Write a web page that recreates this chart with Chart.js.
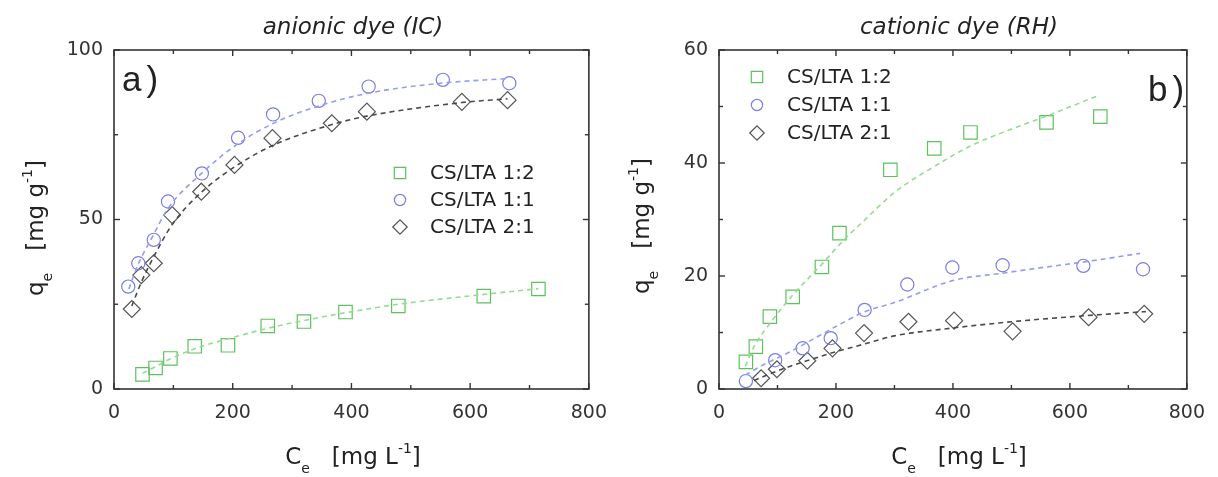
<!DOCTYPE html>
<html>
<head>
<meta charset="utf-8">
<script src="https://cdn.jsdelivr.net/npm/chart.js@4.4.0/dist/chart.umd.min.js"></script>
<style>
body { margin: 0; background: #fff; font-family: "DejaVu Sans", "Liberation Sans", Arial, sans-serif; color: #222; }
#wrap { position: relative; width: 1218px; height: 477px; overflow: hidden; }
canvas { position: absolute; top: 0; }
.t { position: absolute; white-space: nowrap; line-height: 1; }
.title { font-size: 23px; font-style: italic; transform: translateX(-50%); top: 15px; }
.xlab { font-size: 23px; transform: translateX(-50%); top: 441px; }
.ylab { font-size: 23px; transform: translate(-50%, -50%) rotate(-90deg); }
.panel { font-family: "Liberation Sans", Arial, sans-serif; font-size: 35px; letter-spacing: 5px; }
sub { font-size: 14px; vertical-align: -9px; }
sup { font-size: 14px; vertical-align: 11px; }
</style>
</head>
<body>
<div id="wrap">
  <canvas id="ic-chart" width="620" height="477" style="left:0"></canvas>
  <canvas id="rh-chart" width="613" height="477" style="left:605px"></canvas>

  <div class="t title" style="left:353px">anionic dye (IC)</div>
  <div class="t title" style="left:959px">cationic dye (RH)</div>
  <div class="t panel" style="left:122px;top:61px">a)</div>
  <div class="t panel" style="left:1148px;top:71px">b)</div>
  <div class="t xlab" style="left:353px">C<sub>e</sub>&nbsp;&nbsp;&nbsp;[mg L<sup>-1</sup>]</div>
  <div class="t xlab" style="left:959px">C<sub>e</sub>&nbsp;&nbsp;&nbsp;[mg L<sup>-1</sup>]</div>
  <div class="t ylab" style="left:37px;top:228px">q<sub>e</sub>&nbsp;&nbsp;&nbsp;[mg g<sup>-1</sup>]</div>
  <div class="t ylab" style="left:643px;top:226px">q<sub>e</sub>&nbsp;&nbsp;&nbsp;[mg g<sup>-1</sup>]</div>
</div>

<script>
// Isotermas - corante aniônico (IC)
const icCe12 = [48, 70, 95, 136, 192, 259, 320, 390, 479, 623, 715];
const icQe12 = [4.3, 6.2, 9.0, 12.6, 12.9, 18.6, 19.9, 22.7, 24.5, 27.4, 29.5];
const icCe11 = [24, 41, 67, 91, 148, 209, 268, 345, 429, 554, 666];
const icQe11 = [30.2, 37.1, 44.0, 55.3, 63.6, 74.1, 81.0, 85.0, 89.2, 91.2, 90.2];
const icCe21 = [30, 46, 67, 98, 147, 203, 267, 367, 426, 586, 663];
const icQe21 = [23.6, 33.6, 37.1, 51.3, 58.2, 66.1, 74.0, 78.4, 81.8, 84.7, 85.2];

// curvas de ajuste (IC)
const icFitCe12 = [48, 70, 95, 136, 192, 259, 320, 390, 479, 623, 715];
const icFitQe12 = [4.6, 6.6, 8.9, 11.9, 14.8, 17.9, 20.2, 22.5, 25.0, 27.9, 29.6];
const icFitCe11 = [25, 40, 65, 90, 150, 210, 270, 345, 430, 550, 665];
const icFitQe11 = [29.5, 36.5, 45, 53, 64, 72.5, 78.5, 83.5, 87.3, 90.2, 91.6];
const icFitCe21 = [30, 46, 67, 98, 147, 203, 267, 367, 426, 586, 663];
const icFitQe21 = [24.5, 31.5, 39, 48.5, 58, 65.5, 71.8, 78, 80.5, 84.5, 85.6];

// Isotermas - corante catiônico (RH)
const rhCe12 = [46, 63, 87, 126, 176, 206, 293, 368, 430, 560, 652];
const rhQe12 = [4.8, 7.5, 12.8, 16.3, 21.6, 27.6, 38.8, 42.6, 45.4, 47.2, 48.2];
const rhCe11 = [46, 96, 143, 191, 249, 322, 399, 485, 623, 725];
const rhQe11 = [1.4, 5.1, 7.2, 9.0, 14.0, 18.5, 21.5, 21.9, 21.8, 21.2];
const rhCe21 = [72, 99, 151, 194, 248, 324, 402, 502, 632, 727];
const rhQe21 = [1.9, 3.5, 5.0, 7.2, 9.9, 11.9, 12.1, 10.2, 12.7, 13.3];

// curvas de ajuste (RH)
const rhFitCe12 = [45, 60, 90, 125, 175, 210, 250, 300, 370, 430, 500, 560, 650];
const rhFitQe12 = [4.0, 7.5, 12.0, 16.5, 22.0, 26.0, 30.0, 34.8, 39.5, 43.0, 46.0, 48.3, 52.0];
const rhFitCe11 = [45, 80, 120, 190, 250, 300, 400, 485, 560, 625, 720];
const rhFitQe11 = [2.5, 4.5, 6.5, 10.5, 13.7, 15.3, 19.2, 20.5, 21.6, 22.5, 24.0];
const rhFitCe21 = [60, 100, 150, 200, 250, 300, 400, 500, 630, 730];
const rhFitQe21 = [1.5, 3.2, 5.0, 6.6, 8.0, 9.4, 10.8, 11.9, 13.0, 13.7];

const seriesLabels = ['CS/LTA 1:2', 'CS/LTA 1:1', 'CS/LTA 2:1'];
const xTicks = [0, 200, 400, 600, 800];
const icYTicks = [0, 50, 100];
const rhYTicks = [0, 20, 40, 60];

const GREEN = '#5cc25c', GREEN_FIT = '#93dc93';
const BLUE = '#7b7de8', BLUE_FIT = '#979cf0';
const BLACK = '#555555', BLACK_FIT = '#4a4a4a';
const FONT = '"DejaVu Sans", "Liberation Sans", Arial, sans-serif';

const markerStyles = [
    { pointStyle: 'rect', pointRadius: 9.5, borderColor: GREEN },
    { pointStyle: 'circle', pointRadius: 6.6, borderColor: BLUE },
    { pointStyle: 'rectRot', pointRadius: 8.5, borderColor: BLACK }
];
const fitColors = [GREEN_FIT, BLUE_FIT, BLACK_FIT];

function pts(xs, ys) {
    return xs.map((x, i) => ({ x: x, y: ys[i] }));
}

function buildDatasets(measured, fits) {
    const sets = [];
    fits.forEach((f, i) => {
        sets.push({
            data: pts(f[0], f[1]),
            showLine: true,
            isFit: true,
            borderColor: fitColors[i],
            borderWidth: 1.6,
            borderDash: [5, 4],
            pointRadius: 0,
            cubicInterpolationMode: 'monotone'
        });
    });
    measured.forEach((m, i) => {
        sets.push(Object.assign({
            label: seriesLabels[i],
            data: pts(m[0], m[1]),
            showLine: false,
            backgroundColor: 'rgba(0,0,0,0)',
            borderWidth: 1.2,
            pointBorderWidth: 1.2
        }, markerStyles[i]));
    });
    return sets;
}

// moldura, marcas internas e legenda dentro do gráfico
const frameTicks = {
    id: 'frameTicks',
    afterDatasetsDraw(chart, args, opts) {
        const { ctx, chartArea: a, scales } = chart;
        const xs = scales.x, ys = scales.y;
        ctx.save();
        ctx.strokeStyle = '#333';
        ctx.lineWidth = 1.6;
        ctx.strokeRect(a.left, a.top, a.right - a.left, a.bottom - a.top);
        ctx.lineWidth = 1.4;
        const seg = (x1, y1, x2, y2) => {
            ctx.beginPath(); ctx.moveTo(x1, y1); ctx.lineTo(x2, y2); ctx.stroke();
        };
        for (let v = xs.min; v <= xs.max + 1e-6; v += opts.minorX) {
            const len = (Math.round(v) % opts.majorX === 0) ? 6 : 4;
            const px = xs.getPixelForValue(v);
            seg(px, a.bottom, px, a.bottom - len);
            seg(px, a.top, px, a.top + len);
        }
        for (let v = ys.min; v <= ys.max + 1e-6; v += opts.minorY) {
            const len = (Math.round(v) % opts.majorY === 0) ? 6 : 4;
            const py = ys.getPixelForValue(v);
            seg(a.left, py, a.left + len, py);
            seg(a.right, py, a.right - len, py);
        }

        // legenda
        ctx.font = '20px ' + FONT;
        ctx.textBaseline = 'middle';
        let row = 0;
        chart.data.datasets.forEach(ds => {
            if (ds.isFit) return;
            const y = opts.legendY + row * opts.legendGap;
            ctx.strokeStyle = ds.borderColor;
            ctx.fillStyle = 'rgba(0,0,0,0)';
            ctx.lineWidth = 1.2;
            Chart.helpers.drawPoint(ctx, {
                pointStyle: ds.pointStyle, radius: ds.pointRadius * 0.85, rotation: 0, borderWidth: 1.2
            }, opts.legendX, y);
            ctx.fillStyle = '#222';
            ctx.fillText(ds.label, opts.legendX + 30, y + 1);
            row++;
        });
        ctx.restore();
    }
};

function axisOptions(yMax, yStep, yTicks) {
    const tickFont = { family: FONT, size: 19 };
    return {
        x: {
            type: 'linear', min: 0, max: 800,
            afterFit: s => { s.height = 88; },
            afterBuildTicks: s => { s.ticks = xTicks.map(v => ({ value: v })); },
            grid: { display: false, drawTicks: false },
            border: { display: false },
            ticks: { color: '#333', font: tickFont, padding: 13, maxRotation: 0 }
        },
        y: {
            type: 'linear', min: 0, max: yMax,
            afterFit: s => { s.width = 114; },
            afterBuildTicks: s => { s.ticks = yTicks.map(v => ({ value: v })); },
            grid: { display: false, drawTicks: false },
            border: { display: false },
            ticks: { color: '#333', font: tickFont, padding: 11, stepSize: yStep }
        }
    };
}

function makeChart(id, datasets, yMax, yStep, yTicks, padRight, tickOpts) {
    return new Chart(document.getElementById(id).getContext('2d'), {
        type: 'scatter',
        data: { datasets: datasets },
        options: {
            responsive: false,
            animation: false,
            layout: { autoPadding: false, padding: { top: 50, right: padRight, left: 0, bottom: 0 } },
            plugins: { legend: { display: false }, tooltip: { enabled: false }, frameTicks: tickOpts },
            scales: axisOptions(yMax, yStep, yTicks)
        },
        plugins: [frameTicks]
    });
}

const icChart = makeChart('ic-chart',
    buildDatasets(
        [[icCe12, icQe12], [icCe11, icQe11], [icCe21, icQe21]],
        [[icFitCe12, icFitQe12], [icFitCe11, icFitQe11], [icFitCe21, icFitQe21]]
    ),
    100, 50, icYTicks, 28,
    { minorX: 100, majorX: 200, minorY: 25, majorY: 50, legendX: 400, legendY: 173, legendGap: 27 }
);

const rhChart = makeChart('rh-chart',
    buildDatasets(
        [[rhCe12, rhQe12], [rhCe11, rhQe11], [rhCe21, rhQe21]],
        [[rhFitCe12, rhFitQe12], [rhFitCe11, rhFitQe11], [rhFitCe21, rhFitQe21]]
    ),
    60, 20, rhYTicks, 19,
    { minorX: 100, majorX: 200, minorY: 10, majorY: 20, legendX: 152, legendY: 77, legendGap: 28 }
);
</script>
</body>
</html>
